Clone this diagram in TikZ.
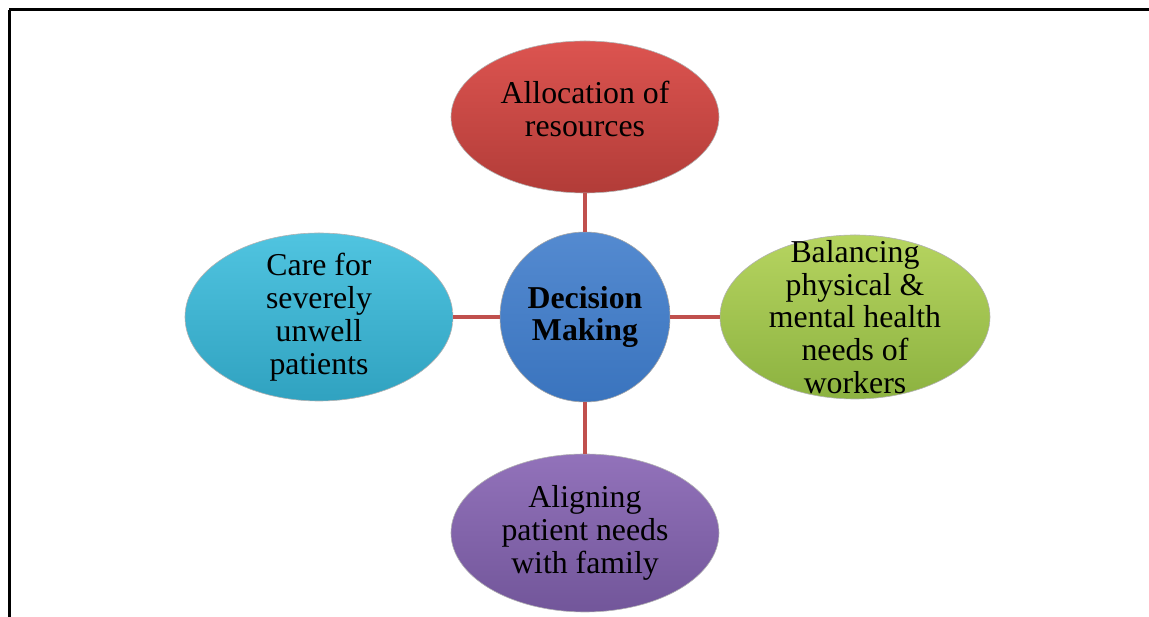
\documentclass[tikz,border=0pt]{standalone}
\usepackage{fontspec}
\setmainfont{Liberation Serif}
\usetikzlibrary{shapes.geometric, positioning}
\definecolor{linkred}{HTML}{C0504D}
\tikzstyle{topic} = [ellipse, minimum width=268pt, minimum height=156pt, inner xsep=0pt, inner ysep=-12pt, align=center, draw=black!30, line width=0.6pt, font=\fontsize{31.8}{32.8}\selectfont]
\tikzstyle{hub} = [circle, minimum size=170pt, inner sep=0pt, align=center, draw=black!35, line width=0.6pt, top color={rgb,255:red,84;green,138;blue,208}, bottom color={rgb,255:red,58;green,116;blue,190}, font=\fontsize{31.8}{32.8}\selectfont\bfseries]
\tikzstyle{link} = [linkred, line width=4pt]

\begin{document}
\begin{tikzpicture}[node distance=200pt]
    \useasboundingbox (-585pt,317pt) rectangle (564pt,-300pt);
    % page frame
    \draw[line width=3pt] (-576pt,307pt) -- (564pt,307pt);
    \draw[line width=3pt] (-575pt,307pt) -- (-575pt,-300pt);

    \node (decide) [hub] {Decision\\Making};
    \node (alloc) [topic, above of=decide, minimum height=152pt, text depth=16pt, top color={rgb,255:red,220;green,84;blue,80}, bottom color={rgb,255:red,178;green,60;blue,56}] {Allocation of\\resources};
    \node (care) [topic, left of=decide, xshift=-66pt, minimum height=168pt, top color={rgb,255:red,80;green,196;blue,224}, bottom color={rgb,255:red,48;green,162;blue,192}] {Care for\\severely\\unwell\\patients};
    \node (balance) [topic, right of=decide, xshift=70pt, minimum width=270pt, minimum height=164pt, inner ysep=-32pt, top color={rgb,255:red,182;green,212;blue,96}, bottom color={rgb,255:red,140;green,178;blue,64}] {Balancing\\physical \&\\mental health\\needs of\\workers};
    \node (align) [topic, below of=decide, yshift=-16pt, minimum height=158pt, top color={rgb,255:red,146;green,114;blue,186}, bottom color={rgb,255:red,114;green,86;blue,154}] {Aligning\\patient needs\\with family};

    \draw [link] (decide) -- (alloc);
    \draw [link] (decide) -- (care);
    \draw [link] (decide) -- (balance);
    \draw [link] (decide) -- (align);
\end{tikzpicture}
\end{document}
